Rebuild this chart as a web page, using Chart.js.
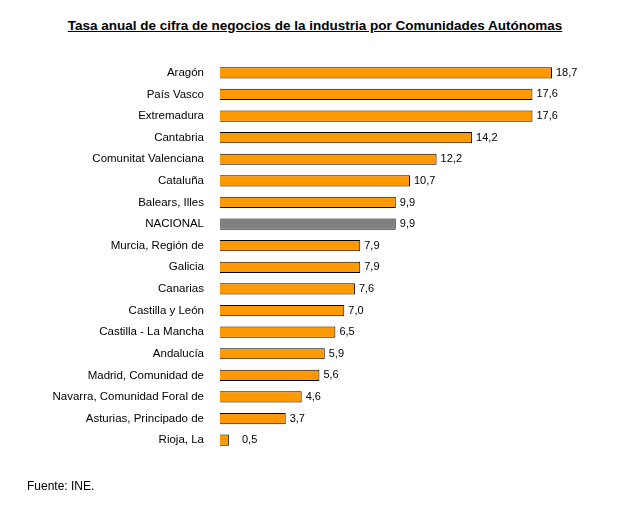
<!DOCTYPE html>
<html>
<head>
<meta charset="utf-8">
<script src="https://cdn.jsdelivr.net/npm/chart.js@4"></script>
<style>
  body { margin: 0; background: #fff; font-family: Arial, "Liberation Sans", sans-serif; }
  #wrap { position: relative; width: 630px; height: 511px; }
  #title { position: absolute; top: 18px; left: 0; width: 630px; text-align: center;
           font-weight: bold; font-size: 13.5px; text-decoration: underline; }
  #src { position: absolute; top: 479px; left: 27px; font-size: 12px; }
  canvas { position: absolute; top: 0; left: 0; }
</style>
</head>
<body>
<div id="wrap">
  <div id="title">Tasa anual de cifra de negocios de la industria por Comunidades Autónomas</div>
  <canvas id="chart" width="630" height="511"></canvas>
  <div id="src">Fuente: INE.</div>
</div>
<script>
// Comunidades y tasas (%)
const regions = ['Aragón', 'País Vasco', 'Extremadura', 'Cantabria', 'Comunitat Valenciana', 'Cataluña',
  'Balears, Illes', 'NACIONAL', 'Murcia, Región de', 'Galicia', 'Canarias', 'Castilla y León',
  'Castilla - La Mancha', 'Andalucía', 'Madrid, Comunidad de', 'Navarra, Comunidad Foral de',
  'Asturias, Principado de', 'Rioja, La'];
const rates = [18.7, 17.6, 17.6, 14.2, 12.2, 10.7, 9.9, 9.9, 7.9, 7.9, 7.6, 7.0, 6.5, 5.9, 5.6, 4.6, 3.7, 0.5];

const barColors = regions.map(r => r === 'NACIONAL' ? '#808080' : '#FF9900');

// etiquetas de valor a la derecha de cada barra
const valueLabels = {
  id: 'valueLabels',
  afterDatasetsDraw(chart) {
    const ctx = chart.ctx;
    const meta = chart.getDatasetMeta(0);
    ctx.save();
    ctx.font = '11px Arial, "Liberation Sans", sans-serif';
    ctx.fillStyle = '#000';
    ctx.textBaseline = 'middle';
    meta.data.forEach((bar, i) => {
      const txt = rates[i].toFixed(1).replace('.', ',');
      ctx.fillText(txt, Math.max(bar.x, 238) + 4, bar.y);
    });
    ctx.restore();
  }
};

new Chart(document.getElementById('chart').getContext('2d'), {
  type: 'bar',
  data: {
    labels: regions,
    datasets: [{
      data: rates,
      backgroundColor: barColors,
      borderColor: '#000',
      borderWidth: 1,
      barPercentage: 0.52,
      categoryPercentage: 1
    }]
  },
  options: {
    indexAxis: 'y',
    responsive: false,
    animation: false,
    layout: { padding: { top: 62, bottom: 60, right: 78, left: 0 } },
    plugins: { legend: { display: false }, tooltip: { enabled: false } },
    scales: {
      x: { min: 0, max: 18.7, display: false },
      y: {
        grid: { display: false },
        border: { display: false },
        ticks: { color: '#000', padding: 8, font: { size: 11.5, family: 'Arial, "Liberation Sans", sans-serif' } },
        afterFit(scale) { scale.width = 220; }
      }
    }
  },
  plugins: [valueLabels]
});
</script>
</body>
</html>
